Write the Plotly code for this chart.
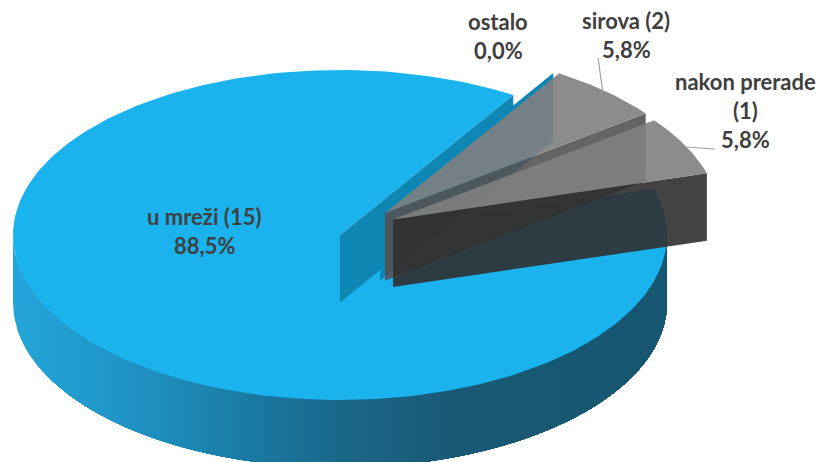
import numpy as np
import plotly.graph_objects as go

# data
categories = ["ostalo", "sirova (2)", "nakon prerade (1)", "u mreži (15)"]
label_lines = [["ostalo"], ["sirova (2)"], ["nakon prerade", "(1)"], ["u mreži (15)"]]
shares = [0.0, 5.8, 5.8, 88.5]

# projection of the tilted pie, in page pixels
RX, RY, DEPTH = 327.0, 165.0, 67.5
START_DEG = 32.0
apex_main = (340.0, 235.0)
apex_ostalo = (380.0, 213.0)
apex_sirova = (385.0, 213.0)
apex_nakon = (393.0, 219.5)

TOP_BLUE = "#1bb3ee"
WALL_BLUE = "#0b86b5"
GREY_TOP = "rgba(127,127,127,0.9)"
WALL_SIROVA = "rgba(83,83,83,0.9)"
WALL_NAKON = "rgba(47,47,47,0.9)"
TEXT = "#404040"

total = sum(shares)
sweeps = [s / total * 360.0 for s in shares]
edges = START_DEG + np.cumsum([0.0] + sweeps)


def rim(apex, deg):
    t = np.radians(np.asarray(deg, dtype=float))
    return apex[0] + RX * np.sin(t), apex[1] - RY * np.cos(t)


def poly(fig, xs, ys, color, line=0.0):
    fig.add_trace(go.Scatter(
        x=list(xs), y=list(ys), mode="lines", fill="toself", fillcolor=color,
        line=dict(color=color, width=line), hoverinfo="skip", showlegend=False))


def wedge(fig, apex, a0, a1, color):
    xs, ys = rim(apex, np.linspace(a0, a1, 240))
    poly(fig, np.r_[apex[0], xs, apex[0]], np.r_[apex[1], ys, apex[1]], color)


def wall(fig, apex, deg, color):
    x, y = rim(apex, deg)
    poly(fig, [apex[0], x, x, apex[0], apex[0]],
         [apex[1], y, y + DEPTH, apex[1] + DEPTH, apex[1]], color)


fig = go.Figure()

# outer rim of the big slice, shaded from left to right: each band overpaints
# everything to its right, so no seams appear between bands
stops_x = [13, 150, 250, 340, 450, 667]
stops_rgb = np.array([[36, 166, 219], [30, 144, 192], [26, 122, 163],
                      [27, 104, 137], [26, 90, 117], [22, 86, 112]], dtype=float)
for left in np.arange(apex_main[0] - RX, apex_main[0] + RX - 1, 4.0):
    s = np.clip((left - apex_main[0]) / RX, -1, 1)
    t0 = 180.0 - np.degrees(np.arcsin(s))
    x, y = rim(apex_main, np.linspace(t0, 90, 90))
    rgb = [np.interp(left + 2, stops_x, stops_rgb[:, k]) for k in range(3)]
    c = "rgb(%d,%d,%d)" % tuple(rgb)
    poly(fig, np.r_[x, x[::-1], x[0]], np.r_[y, y[::-1] + DEPTH, y[0]], c)

# big slice
wedge(fig, apex_main, edges[3], edges[4], TOP_BLUE)
wall(fig, apex_main, edges[4] - 360.0, "#0f87b5")
# zero-width slice
wall(fig, apex_ostalo, edges[0], WALL_BLUE)
# sirova
wall(fig, apex_sirova, edges[2], WALL_SIROVA)
wedge(fig, apex_sirova, edges[1], edges[2], GREY_TOP)
# nakon prerade
wall(fig, apex_nakon, edges[3], WALL_NAKON)
wedge(fig, apex_nakon, edges[2], edges[3], GREY_TOP)

# leader lines
for lx, ly in [([598, 603], [58, 93]), ([685, 697, 715], [147, 148, 149])]:
    fig.add_trace(go.Scatter(x=lx, y=ly, mode="lines", hoverinfo="skip", showlegend=False,
                             line=dict(color="#a0a0a0", width=1.2)))

# labels
anchors = [(498, 21), (626, 20), (745, 81), (204, 216)]
for lines, share, (ax, ay) in zip(label_lines, shares, anchors):
    texts = lines + [f"{share:.1f}%".replace(".", ",")]
    for i, t in enumerate(texts):
        fig.add_annotation(x=ax, y=ay + i * 29, text=f"<b>{t}</b>", showarrow=False,
                           font=dict(family="Lato", size=22, color=TEXT),
                           xanchor="center", yanchor="middle")

fig.update_layout(
    width=821, height=462, margin=dict(l=0, r=0, t=0, b=0),
    paper_bgcolor="white", plot_bgcolor="white", showlegend=False,
    xaxis=dict(range=[0, 821], visible=False, fixedrange=True),
    yaxis=dict(range=[462, 0], visible=False, fixedrange=True),
)
fig.write_html("out.html", config={"displayModeBar": False},
               post_script="document.body.style.margin='0';")
